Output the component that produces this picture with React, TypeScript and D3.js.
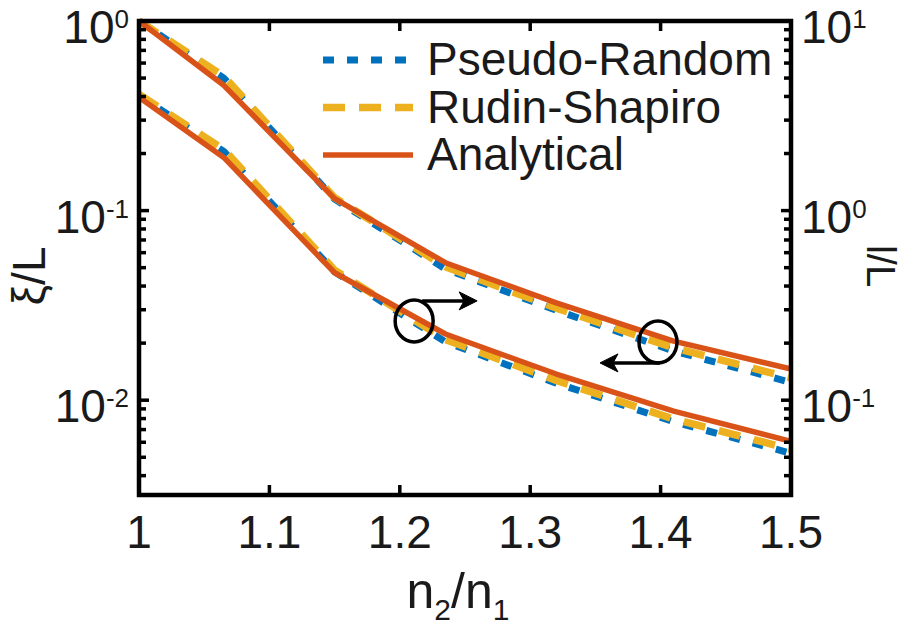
import { useEffect, useRef } from 'react';
import * as d3 from 'd3';

// n2/n1 sample points
const nRatio = [1, 1.065, 1.15, 1.235, 1.32, 1.41, 1.5];

// upper curves, left axis (xi/L)
const xiAnalytical = [1, 0.458, 0.1157, 0.0531, 0.0326, 0.0205, 0.0146];
const xiPseudoRandom = [1, 0.5, 0.115, 0.0492, 0.0298, 0.0182, 0.0124];
const xiRudinShapiro = [1, 0.51, 0.117, 0.0505, 0.0306, 0.0189, 0.0131];

// lower curves, right axis (l/L)
const lAnalytical = [3.96, 1.907, 0.47, 0.2234, 0.1374, 0.0875, 0.0607];
const lPseudoRandom = [4.05, 2.05, 0.475, 0.203, 0.123, 0.077, 0.0525];
const lRudinShapiro = [4.1, 2.1, 0.485, 0.209, 0.127, 0.0795, 0.0552];

const xTicks = [1, 1.1, 1.2, 1.3, 1.4, 1.5];
const leftExps = [0, -1, -2];
const rightExps = [1, 0, -1];
const legendNames = ['Pseudo-Random', 'Rudin-Shapiro', 'Analytical'];

const BLUE = '#0072BD';
const YELLOW = '#EDB120';
const ORANGE = '#D95319';
const FONT = '"Liberation Sans", Arial, Helvetica, sans-serif';
const BLUE_DASH = '11 13';
const YELLOW_DASH = '22 14';

const Chart = () => {
    const svgRef = useRef(null);

    useEffect(() => {
        const width = 904;
        const height = 627;
        const margin = { top: 21, right: 113, bottom: 132, left: 139 };

        const svg = d3.select(svgRef.current)
            .attr('width', width)
            .attr('height', height);
        svg.selectAll('*').remove();

        const x = d3.scaleLinear()
            .domain([1, 1.5])
            .range([margin.left, width - margin.right]);

        const yLeft = d3.scaleLog()
            .domain([Math.pow(10, -2.5), 1])
            .range([height - margin.bottom, margin.top]);

        const yRight = d3.scaleLog()
            .domain([Math.pow(10, -1.5), 10])
            .range([height - margin.bottom, margin.top]);

        const x0 = x(1), x1 = x(1.5);
        const yTop = margin.top, yBot = height - margin.bottom;

        // series
        const drawLine = (vals, yScale, color, w, dash) => {
            const line = d3.line()
                .x((d, i) => x(nRatio[i]))
                .y(d => yScale(d));
            svg.append('path')
                .datum(vals)
                .attr('d', line)
                .attr('fill', 'none')
                .attr('stroke', color)
                .attr('stroke-width', w)
                .attr('stroke-dasharray', dash)
                .attr('stroke-linejoin', 'round');
        };

        drawLine(xiPseudoRandom, yLeft, BLUE, 7, BLUE_DASH);
        drawLine(xiRudinShapiro, yLeft, YELLOW, 7.5, YELLOW_DASH);
        drawLine(xiAnalytical, yLeft, ORANGE, 5.5, null);
        drawLine(lPseudoRandom, yRight, BLUE, 7, BLUE_DASH);
        drawLine(lRudinShapiro, yRight, YELLOW, 7.5, YELLOW_DASH);
        drawLine(lAnalytical, yRight, ORANGE, 5.5, null);

        // ticks
        const ticks = svg.append('g').attr('stroke', '#000').attr('stroke-width', 3.5);
        xTicks.slice(1, -1).forEach(t => {
            ticks.append('line').attr('x1', x(t)).attr('x2', x(t)).attr('y1', yBot).attr('y2', yBot - 10);
            ticks.append('line').attr('x1', x(t)).attr('x2', x(t)).attr('y1', yTop).attr('y2', yTop + 10);
        });

        const logTicks = (scale, xPos, dir) => {
            const [lo, hi] = scale.domain();
            for (let e = Math.floor(Math.log10(lo)); e <= Math.ceil(Math.log10(hi)); e++) {
                for (let m = 1; m < 10; m++) {
                    const v = m * Math.pow(10, e);
                    if (v < lo * 0.999 || v > hi * 1.001) continue;
                    const len = m === 1 ? 10 : 7;
                    ticks.append('line')
                        .attr('x1', xPos).attr('x2', xPos + dir * len)
                        .attr('y1', scale(v)).attr('y2', scale(v));
                }
            }
        };
        logTicks(yLeft, x0, 1);
        logTicks(yRight, x1, -1);

        // box
        svg.append('rect')
            .attr('x', x0).attr('y', yTop)
            .attr('width', x1 - x0).attr('height', yBot - yTop)
            .attr('fill', 'none')
            .attr('stroke', '#000')
            .attr('stroke-width', 4.5);

        // tick labels
        const txt = svg.append('g').attr('font-family', FONT).attr('fill', '#1a1a1a');
        xTicks.forEach(t => {
            txt.append('text')
                .attr('x', x(t)).attr('y', yBot + 53)
                .attr('text-anchor', 'middle')
                .attr('font-size', 46)
                .text(String(t));
        });

        const powLabel = (xPos, yPos, e, anchor) => {
            const el = txt.append('text')
                .attr('x', xPos).attr('y', yPos + 22)
                .attr('text-anchor', anchor)
                .attr('font-size', 46);
            el.append('tspan').text('10');
            el.append('tspan').attr('font-size', 26).attr('dy', -15).text(String(e));
        };
        leftExps.forEach(e => powLabel(x0 - 10, yLeft(Math.pow(10, e)), e, 'end'));
        rightExps.forEach(e => powLabel(x1 + 10, yRight(Math.pow(10, e)), e, 'start'));

        // axis labels
        const xl = txt.append('text')
            .attr('x', 458).attr('y', 608)
            .attr('text-anchor', 'middle')
            .attr('font-size', 50);
        xl.append('tspan').text('n');
        xl.append('tspan').attr('font-size', 30).attr('dy', 12).text('2');
        xl.append('tspan').attr('dy', -12).text('/n');
        xl.append('tspan').attr('font-size', 30).attr('dy', 12).text('1');

        txt.append('text')
            .attr('transform', 'translate(45,276) rotate(-90)')
            .attr('text-anchor', 'middle')
            .attr('font-size', 46)
            .text('ξ/L');

        txt.append('text')
            .attr('transform', 'translate(867,266) rotate(90)')
            .attr('text-anchor', 'middle')
            .attr('font-size', 40)
            .text('l/L');

        // legend
        const legColors = [BLUE, YELLOW, ORANGE];
        const legDash = [BLUE_DASH, YELLOW_DASH, null];
        const legWidth = [7, 7.5, 5.5];
        legendNames.forEach((name, i) => {
            const ly = 60 + i * 47.5;
            svg.append('line')
                .attr('x1', 323).attr('x2', 413)
                .attr('y1', ly).attr('y2', ly)
                .attr('stroke', legColors[i])
                .attr('stroke-width', legWidth[i])
                .attr('stroke-dasharray', legDash[i]);
            txt.append('text')
                .attr('x', 427).attr('y', ly + 15)
                .attr('font-size', 46)
                .text(name);
        });

        // annotations: circle + arrow pointing to the matching axis
        const ann = svg.append('g').attr('stroke', '#000').attr('stroke-width', 3.5).attr('fill', 'none');
        const arrow = (xa, ya, xb, dir) => {
            ann.append('line').attr('x1', xa).attr('x2', xb - dir * 8).attr('y1', ya).attr('y2', ya);
            ann.append('path')
                .attr('d', `M${xb},${ya} L${xb - dir * 18},${ya - 9} L${xb - dir * 13},${ya} L${xb - dir * 18},${ya + 9} Z`)
                .attr('fill', '#000')
                .attr('stroke-width', 1);
        };

        const c1x = x(1.211), c1y = yRight(0.262);
        ann.append('ellipse').attr('cx', c1x).attr('cy', c1y).attr('rx', 19).attr('ry', 21);
        arrow(c1x + 8, c1y - 20, c1x + 63, 1);

        const c2x = x(1.398), c2y = yLeft(0.0203);
        ann.append('ellipse').attr('cx', c2x).attr('cy', c2y).attr('rx', 19).attr('ry', 21);
        arrow(c2x + 2, c2y + 21, c2x - 58, -1);

    }, []);

    return (
        <svg ref={svgRef} style={{ position: 'absolute', left: 0, top: 0, background: '#fff' }}></svg>
    );
};

export default function App() {
    return <Chart />;
}
